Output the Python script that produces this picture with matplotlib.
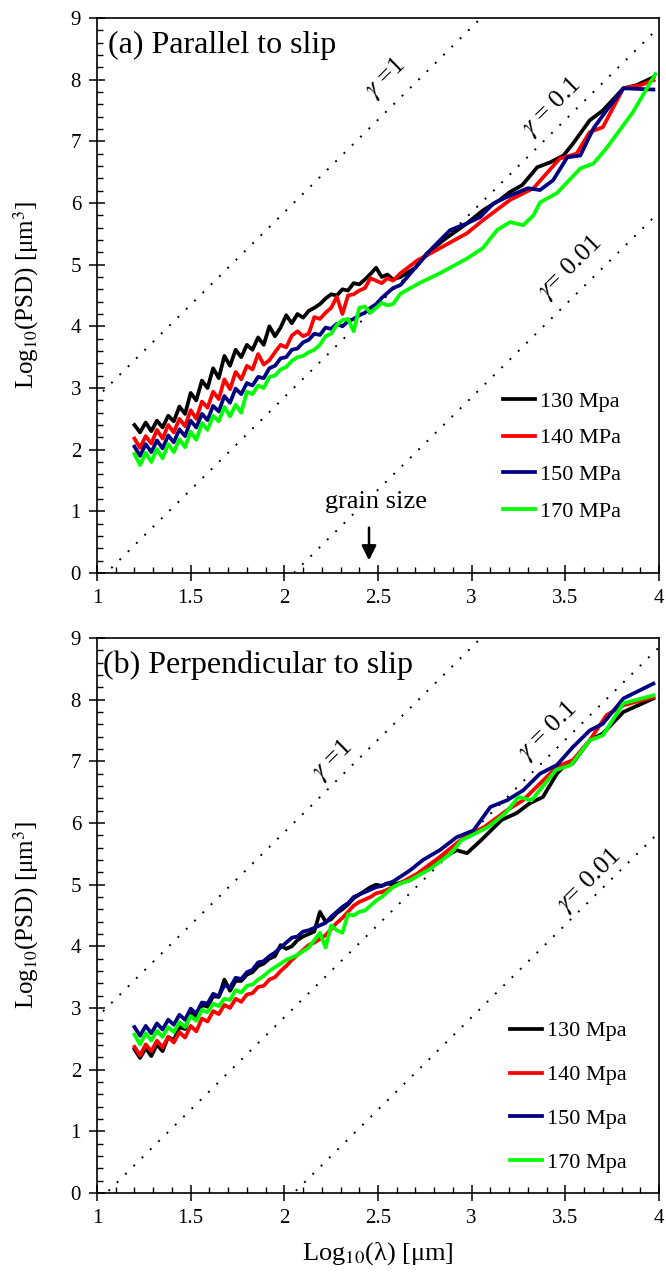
import matplotlib
matplotlib.use("Agg")
import matplotlib.pyplot as plt
import numpy as np
from matplotlib.ticker import FuncFormatter, MultipleLocator

plt.rcParams["font.family"] = ["Liberation Serif", "DejaVu Serif"]
plt.rcParams["mathtext.fontset"] = "stix"

# --- data -----------------------------------------------------------------
# dense, noisy part of every spectrum shares one log10(lambda) grid
lam_grid = np.round(np.arange(1.20, 2.59, 0.03), 2)

# (a) parallel to slip
par_130_lo = [2.40, 2.28, 2.44, 2.30, 2.47, 2.36, 2.55, 2.46, 2.70, 2.58,
              2.92, 2.80, 3.12, 3.00, 3.32, 3.16, 3.52, 3.36, 3.62, 3.50,
              3.70, 3.62, 3.82, 3.70, 4.00, 3.84, 3.98, 4.18, 4.05, 4.20,
              4.14, 4.25, 4.30, 4.36, 4.45, 4.52, 4.50, 4.60, 4.58, 4.70,
              4.68, 4.76, 4.85, 4.95, 4.80, 4.84, 4.76]
par_130_hi_x = [2.62, 2.70, 2.76, 2.85, 2.975, 3.06, 3.15, 3.205, 3.27, 3.35,
                3.42, 3.49, 3.54, 3.63, 3.70, 3.81, 3.88, 3.97]
par_130_hi_y = [4.80, 4.95, 5.18, 5.40, 5.67, 5.88, 6.05, 6.18, 6.29, 6.58,
                6.66, 6.77, 6.96, 7.34, 7.50, 7.86, 7.91, 8.04]

par_140_lo = [2.18, 2.03, 2.22, 2.10, 2.32, 2.18, 2.40, 2.28, 2.50, 2.38,
              2.64, 2.50, 2.78, 2.68, 2.94, 2.82, 3.14, 2.98, 3.26, 3.14,
              3.36, 3.30, 3.55, 3.38, 3.45, 3.58, 3.70, 3.66, 3.85, 3.92,
              3.84, 3.88, 4.15, 4.12, 4.22, 4.30, 4.48, 4.20, 4.50, 4.52,
              4.58, 4.62, 4.78, 4.74, 4.70, 4.78, 4.74]
par_140_hi_x = [2.62, 2.71, 2.79, 2.975, 3.06, 3.205, 3.33, 3.47, 3.56, 3.63,
                3.70, 3.81, 3.90, 3.97]
par_140_hi_y = [4.86, 5.07, 5.20, 5.51, 5.72, 6.05, 6.24, 6.72, 6.80, 7.15,
                7.23, 7.86, 7.91, 7.99]

par_150_lo = [2.05, 1.90, 2.09, 1.96, 2.15, 2.02, 2.23, 2.12, 2.33, 2.22,
              2.47, 2.36, 2.58, 2.48, 2.71, 2.62, 2.87, 2.76, 2.99, 2.90,
              3.08, 3.04, 3.18, 3.16, 3.32, 3.36, 3.48, 3.50, 3.62, 3.64,
              3.74, 3.78, 3.88, 3.86, 3.98, 3.96, 4.04, 4.00, 4.08, 4.12,
              4.18, 4.22, 4.30, 4.36, 4.46, 4.54, 4.62]
par_150_hi_x = [2.62, 2.71, 2.79, 2.885, 2.975, 3.045, 3.115, 3.19, 3.30, 3.365,
                3.435, 3.51, 3.58, 3.65, 3.72, 3.81, 3.97]
par_150_hi_y = [4.67, 4.99, 5.27, 5.56, 5.67, 5.77, 5.99, 6.10, 6.24, 6.21,
                6.37, 6.74, 6.77, 7.21, 7.50, 7.86, 7.84]

par_170_lo = [1.93, 1.75, 1.95, 1.80, 2.01, 1.86, 2.09, 1.96, 2.17, 2.04,
              2.29, 2.16, 2.43, 2.32, 2.55, 2.46, 2.69, 2.54, 2.73, 2.60,
              2.94, 2.90, 3.04, 3.00, 3.18, 3.20, 3.30, 3.34, 3.44, 3.50,
              3.52, 3.58, 3.62, 3.70, 3.84, 3.88, 4.02, 4.10, 4.12, 3.92,
              4.30, 4.32, 4.22, 4.30, 4.38, 4.34, 4.36]
par_170_hi_x = [2.62, 2.72, 2.83, 2.975, 3.06, 3.135, 3.205, 3.275, 3.33, 3.365,
                3.455, 3.58, 3.65, 3.72, 3.86, 3.98]
par_170_hi_y = [4.53, 4.70, 4.86, 5.10, 5.27, 5.56, 5.69, 5.64, 5.80, 6.01,
                6.16, 6.56, 6.64, 6.89, 7.47, 8.09]

# (b) perpendicular to slip
per_130_lo = [2.33, 2.19, 2.35, 2.22, 2.41, 2.30, 2.53, 2.48, 2.69, 2.66,
              2.95, 2.86, 3.05, 3.02, 3.19, 3.18, 3.46, 3.28, 3.44, 3.44,
              3.54, 3.58, 3.68, 3.72, 3.80, 3.84, 4.02, 3.96, 4.00, 4.10,
              4.16, 4.20, 4.24, 4.56, 4.40, 4.44, 4.54, 4.60, 4.68, 4.78,
              4.84, 4.90, 4.96, 5.00, 4.98, 5.02, 5.00]
per_130_hi_x = [2.67, 2.80, 2.92, 2.975, 3.05, 3.16, 3.24, 3.31, 3.38, 3.455,
                3.49, 3.54, 3.63, 3.70, 3.81, 3.97]
per_130_hi_y = [5.07, 5.35, 5.56, 5.51, 5.72, 6.05, 6.16, 6.32, 6.42, 6.80,
                6.91, 6.97, 7.34, 7.45, 7.80, 8.02]

per_140_lo = [2.37, 2.23, 2.41, 2.30, 2.47, 2.36, 2.53, 2.44, 2.61, 2.52,
              2.71, 2.62, 2.83, 2.78, 2.95, 2.90, 3.05, 3.00, 3.15, 3.10,
              3.22, 3.24, 3.34, 3.36, 3.46, 3.50, 3.60, 3.68, 3.78, 3.86,
              3.94, 4.02, 4.06, 4.12, 4.18, 4.28, 4.38, 4.46, 4.56, 4.66,
              4.72, 4.76, 4.80, 4.86, 4.88, 4.92, 4.96]
per_140_hi_x = [2.71, 2.83, 2.96, 3.07, 3.19, 3.275, 3.365, 3.455, 3.54, 3.63,
                3.72, 3.81, 3.97]
per_140_hi_y = [5.18, 5.45, 5.77, 5.94, 6.21, 6.37, 6.64, 6.91, 7.02, 7.34,
                7.75, 7.91, 8.04]

per_150_lo = [2.69, 2.55, 2.71, 2.59, 2.75, 2.65, 2.81, 2.73, 2.89, 2.81,
              2.99, 2.91, 3.09, 3.07, 3.23, 3.19, 3.37, 3.33, 3.49, 3.47,
              3.58, 3.62, 3.74, 3.76, 3.84, 3.90, 3.98, 4.06, 4.14, 4.16,
              4.24, 4.26, 4.30, 4.34, 4.38, 4.48, 4.56, 4.64, 4.70, 4.80,
              4.84, 4.88, 4.92, 4.96, 4.98, 5.02, 5.05]
per_150_hi_x = [2.67, 2.74, 2.83, 2.92, 3.01, 3.10, 3.19, 3.275, 3.365, 3.455,
                3.54, 3.63, 3.70, 3.81, 3.97]
per_150_hi_y = [5.23, 5.40, 5.56, 5.77, 5.88, 6.26, 6.37, 6.53, 6.80, 6.94,
                7.23, 7.50, 7.61, 8.02, 8.26]

per_170_lo = [2.57, 2.41, 2.59, 2.47, 2.63, 2.53, 2.69, 2.61, 2.77, 2.69,
              2.87, 2.79, 2.97, 2.93, 3.07, 3.03, 3.15, 3.13, 3.29, 3.25,
              3.36, 3.38, 3.46, 3.52, 3.60, 3.66, 3.72, 3.78, 3.82, 3.86,
              3.92, 3.98, 4.10, 4.22, 3.98, 4.34, 4.26, 4.22, 4.52, 4.50,
              4.56, 4.58, 4.66, 4.74, 4.80, 4.88, 4.96]
per_170_hi_x = [2.62, 2.67, 2.78, 2.89, 2.945, 3.02, 3.09, 3.18, 3.25, 3.32,
                3.45, 3.53, 3.63, 3.70, 3.81, 3.97]
per_170_hi_y = [5.02, 5.07, 5.26, 5.51, 5.72, 5.83, 5.94, 6.16, 6.42, 6.37,
                6.86, 6.94, 7.34, 7.42, 7.94, 8.07]

colors = ["#000000", "#ff0000", "#000080", "#00ff00"]
labels_par = ["130 Mpa", "140 MPa", "150 MPa", "170 MPa"]
labels_per = ["130 Mpa", "140 Mpa", "150 Mpa", "170 Mpa"]

# reference slopes log10(PSD) = 3 log10(lambda) + 3 log10(gamma) - 0.15
gammas = [1, 0.1, 0.01]
gamma_text = [r"$\gamma$ =1", r"$\gamma$ = 0.1", r"$\gamma$= 0.01"]
gamma_pos_par = [(2.54, 8.02), (3.43, 7.55), (3.53, 4.95)]
gamma_pos_per = [(2.26, 7.02), (3.41, 7.50), (3.63, 5.07)]


def join(lo, hi_x, hi_y):
    return np.concatenate([lam_grid, hi_x]), np.concatenate([lo, hi_y])


def draw_panel(ax, series, labels, title, gamma_pos, legend_anchor, spacing):
    # dotted gamma reference lines
    xs = np.array([0.5, 4.5])
    for g, txt, (tx, ty) in zip(gammas, gamma_text, gamma_pos):
        ax.plot(xs, 3 * xs + 3 * np.log10(g) - 0.15, color="black",
                lw=1.4, linestyle=(0, (1, 5)), zorder=1)
        ax.text(tx, ty, txt, fontsize=19, rotation=np.degrees(np.arctan(3)),
                transform_rotates_text=True, rotation_mode="anchor",
                ha="center", va="center")

    for (x, y), c, lab in zip(series, colors, labels):
        ax.plot(x, y, color=c, lw=2.7, label=lab, zorder=3)

    ax.set_xlim(1, 4)
    ax.set_ylim(0, 9)
    ax.xaxis.set_major_locator(MultipleLocator(0.5))
    ax.xaxis.set_minor_locator(MultipleLocator(0.1))
    ax.yaxis.set_major_locator(MultipleLocator(1))
    ax.yaxis.set_minor_locator(MultipleLocator(0.2))
    fmt = FuncFormatter(lambda v, _: f"{v:g}")
    ax.xaxis.set_major_formatter(fmt)
    ax.yaxis.set_major_formatter(fmt)
    ax.tick_params(which="major", direction="inout", length=11, width=1.1,
                   labelsize=15, pad=6)
    ax.tick_params(which="minor", direction="in", length=4.5, width=1.0)
    for s in ax.spines.values():
        s.set_linewidth(1.2)

    ax.set_ylabel(r"Log$_{10}$(PSD) [μm$^3$]", fontsize=18)
    ax.yaxis.set_label_coords(-0.1, 0.5)
    ax.text(title[1], 0.937, title[0], transform=ax.transAxes, fontsize=23,
            va="baseline", ha="left")

    ax.legend(frameon=False, loc="center right", bbox_to_anchor=legend_anchor,
              borderpad=0, borderaxespad=0, fontsize=16, handlelength=1.45,
              handletextpad=0.2, labelspacing=spacing)


fig = plt.figure(figsize=(6.66, 12.8), dpi=100)
ax_a = fig.add_axes([97 / 666, 1 - 573 / 1280, 562 / 666, 555 / 1280])
ax_b = fig.add_axes([97 / 666, 1 - 1193 / 1280, 562 / 666, 555 / 1280])

series_par = [join(par_130_lo, par_130_hi_x, par_130_hi_y),
              join(par_140_lo, par_140_hi_x, par_140_hi_y),
              join(par_150_lo, par_150_hi_x, par_150_hi_y),
              join(par_170_lo, par_170_hi_x, par_170_hi_y)]
series_per = [join(per_130_lo, per_130_hi_x, per_130_hi_y),
              join(per_140_lo, per_140_hi_x, per_140_hi_y),
              join(per_150_lo, per_150_hi_x, per_150_hi_y),
              join(per_170_lo, per_170_hi_x, per_170_hi_y)]

draw_panel(ax_a, series_par, labels_par, ("(a) Parallel to slip", 0.019),
           gamma_pos_par, (0.932, 0.21), 0.72)
draw_panel(ax_b, series_per, labels_per, ("(b) Perpendicular to slip", 0.011),
           gamma_pos_per, (0.942, 0.173), 1.05)

# grain size marker on panel (a)
ax_a.text(2.49, 1.05, "grain size", fontsize=19, ha="center", va="baseline")
ax_a.annotate("", xy=(2.452, 0.16), xytext=(2.452, 0.78),
              arrowprops=dict(arrowstyle="-|>", color="black", lw=1.8,
                              mutation_scale=22))

ax_b.set_xlabel("Log$_{10}$(λ) [μm]", fontsize=19, labelpad=9)

fig.savefig("out.png", dpi=100)
